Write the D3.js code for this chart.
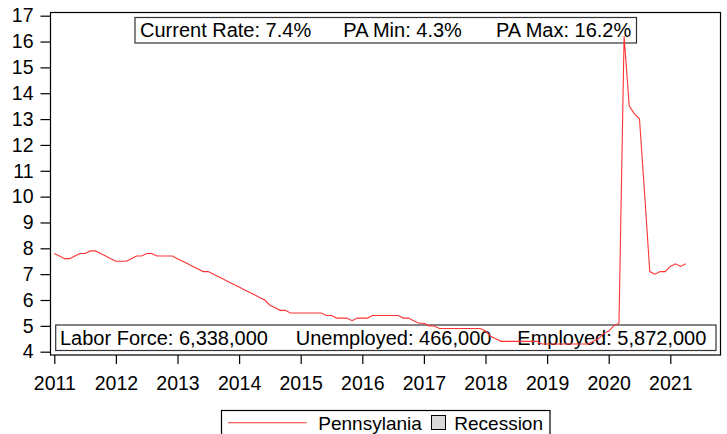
<!DOCTYPE html>
<html>
<head>
<meta charset="utf-8">
<script src="https://cdn.jsdelivr.net/npm/d3@7"></script>
<style>
  body { margin: 0; background: #fff; }
  svg { display: block; font-family: "Liberation Sans", Arial, sans-serif; }
</style>
</head>
<body>
<div id="chart"></div>
<script>
// monthly unemployment rate, Pennsylvania, Jan 2011 .. Apr 2021
const startYear = 2011;
const rates = [
  7.8, 7.7, 7.6, 7.6, 7.7, 7.8, 7.8, 7.9, 7.9, 7.8, 7.7, 7.6,   // 2011
  7.5, 7.5, 7.5, 7.6, 7.7, 7.7, 7.8, 7.8, 7.7, 7.7, 7.7, 7.7,   // 2012
  7.6, 7.5, 7.4, 7.3, 7.2, 7.1, 7.1, 7.0, 6.9, 6.8, 6.7, 6.6,   // 2013
  6.5, 6.4, 6.3, 6.2, 6.1, 6.0, 5.8, 5.7, 5.6, 5.6, 5.5, 5.5,   // 2014
  5.5, 5.5, 5.5, 5.5, 5.5, 5.4, 5.4, 5.3, 5.3, 5.3, 5.2, 5.3,   // 2015
  5.3, 5.3, 5.4, 5.4, 5.4, 5.4, 5.4, 5.4, 5.3, 5.3, 5.2, 5.1,   // 2016
  5.1, 5.0, 5.0, 4.9, 4.9, 4.9, 4.9, 4.9, 4.9, 4.9, 4.9, 4.9,   // 2017
  4.8, 4.6, 4.5, 4.4, 4.4, 4.4, 4.4, 4.4, 4.4, 4.4, 4.4, 4.3,   // 2018
  4.3, 4.3, 4.3, 4.3, 4.3, 4.3, 4.3, 4.3, 4.3, 4.4, 4.5, 4.7,   // 2019
  4.8, 5.0, 5.1, 16.2, 13.5, 13.2, 13.0, 10.1, 7.1, 7.0, 7.1, 7.1, // 2020
  7.3, 7.4, 7.3, 7.4                                           // 2021
];
const yearTicks = [2011, 2012, 2013, 2014, 2015, 2016, 2017, 2018, 2019, 2020, 2021];
const rateTicks = [4, 5, 6, 7, 8, 9, 10, 11, 12, 13, 14, 15, 16, 17];

const topNotes = ["Current Rate: 7.4%", "PA Min: 4.3%", "PA Max: 16.2%"];
const bottomNotes = ["Labor Force: 6,338,000", "Unemployed: 466,000", "Employed: 5,872,000"];
const seriesName = "Pennsylania";
const recessionName = "Recession";

const data = rates.map((v, i) => ({ t: startYear + i / 12, v }));

const width = 727, height = 434;
const frame = { left: 50.5, top: 12.5, right: 720.5, bottom: 355 };

const svg = d3.select("#chart").append("svg")
  .attr("width", width)
  .attr("height", height);

const x = d3.scaleLinear().domain([2011, 2021]).range([54.3, 670.3]);
const y = d3.scaleLinear().domain([4, 17]).range([351.7, 15.7]);

// frame
svg.append("rect")
  .attr("x", frame.left).attr("y", frame.top)
  .attr("width", frame.right - frame.left)
  .attr("height", frame.bottom - frame.top)
  .attr("fill", "none").attr("stroke", "#000").attr("stroke-width", 1.2);

// axes
const yAxis = svg.append("g")
  .attr("transform", `translate(${frame.left},0)`)
  .call(d3.axisLeft(y).tickValues(rateTicks).tickSize(10).tickPadding(7).tickFormat(d3.format("d")));
const xAxis = svg.append("g")
  .attr("transform", `translate(0,${frame.bottom})`)
  .call(d3.axisBottom(x).tickValues(yearTicks).tickSize(9).tickPadding(12.5).tickFormat(d3.format("d")));

[yAxis, xAxis].forEach(g => {
  g.select(".domain").remove();
  g.selectAll(".tick line").attr("stroke", "#000").attr("stroke-width", 1.2);
  g.selectAll(".tick text")
    .attr("fill", "#000")
    .style("font-size", "19.5px")
    .style("font-family", "'Liberation Sans', Arial, sans-serif");
});

// annotation boxes
function noteBox(x0, y0, w, h, notes, xs, baseline) {
  svg.append("rect")
    .attr("x", x0).attr("y", y0).attr("width", w).attr("height", h)
    .attr("fill", "#fff").attr("stroke", "#333").attr("stroke-width", 1.2);
  svg.selectAll(null)
    .data(notes)
    .enter()
    .append("text")
    .attr("x", (d, i) => xs[i])
    .attr("y", baseline)
    .style("font-size", "20px")
    .attr("fill", "#000")
    .text(d => d);
}
noteBox(135, 17.5, 501.5, 25.5, topNotes, [140, 343.3, 496], 37.3);
noteBox(55.7, 325, 660.3, 25.5, bottomNotes, [60, 295.7, 517.3], 345);

// series line
const line = d3.line().x(d => x(d.t)).y(d => y(d.v));
svg.append("path")
  .datum(data)
  .attr("d", line)
  .attr("fill", "none")
  .attr("stroke", "#ff3535")
  .attr("stroke-width", 1.1);

// legend
const legend = svg.append("g");
legend.append("rect")
  .attr("x", 221.5).attr("y", 410.5).attr("width", 328.5).attr("height", 40)
  .attr("fill", "#fff").attr("stroke", "#000").attr("stroke-width", 1.2);
legend.append("line")
  .attr("x1", 228).attr("x2", 306.7).attr("y1", 422.7).attr("y2", 422.7)
  .attr("stroke", "#ff3535").attr("stroke-width", 1.1);
legend.append("text")
  .attr("x", 318.3).attr("y", 430)
  .style("font-size", "19px")
  .text(seriesName);
legend.append("rect")
  .attr("x", 431.5).attr("y", 415.5).attr("width", 14).attr("height", 14)
  .attr("fill", "#d9d9d9").attr("stroke", "#000").attr("stroke-width", 1);
legend.append("text")
  .attr("x", 454.3).attr("y", 430)
  .style("font-size", "19px")
  .text(recessionName);
</script>
</body>
</html>
